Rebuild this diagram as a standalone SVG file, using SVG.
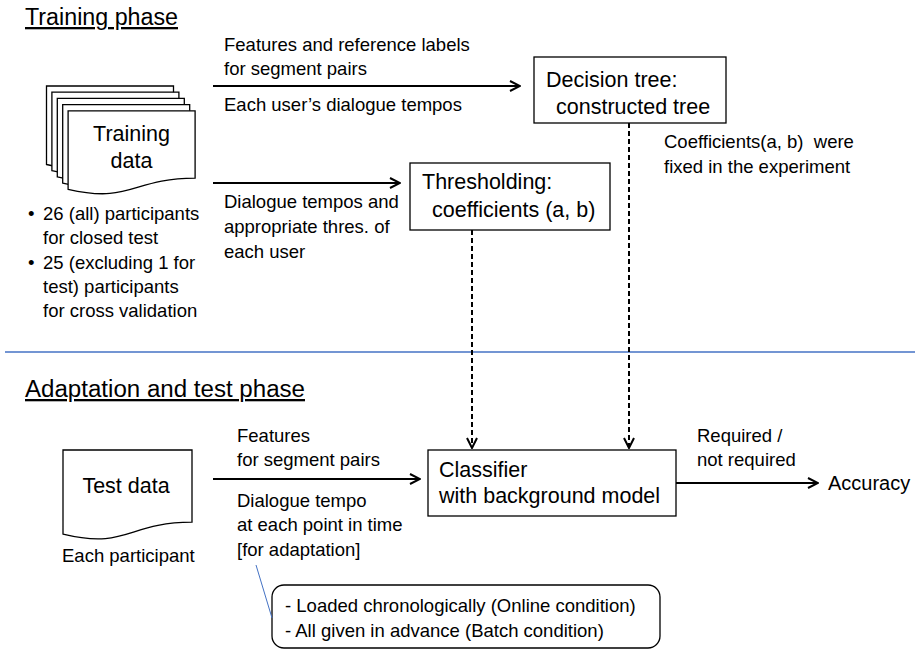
<svg xmlns="http://www.w3.org/2000/svg" width="915" height="652" viewBox="0 0 915 652">
<defs>
<style>
text{font-family:"Liberation Sans",Arial,sans-serif;fill:#000;white-space:pre}
.t{font-size:18.5px}
.b{font-size:21.5px}
.h{font-size:23px;text-decoration:underline}
.box{fill:#fff;stroke:#000;stroke-width:1.3}
.doc{fill:#fff;stroke:#000;stroke-width:1.3}
.ar{fill:none;stroke:#000;stroke-width:2}
.da{fill:none;stroke:#000;stroke-width:2;stroke-dasharray:5 3}
</style>
<marker id="ah" viewBox="0 0 12 12" refX="11" refY="6" markerWidth="12" markerHeight="12" markerUnits="userSpaceOnUse" orient="auto">
<path d="M1,1 L11,6 L1,11" fill="none" stroke="#000" stroke-width="2"/>
</marker>
<path id="page" d="M0,0 H127 V67.4 C63.5,67.4 63.5,93 0,78.5 Z"/>
</defs>

<g id="titles">
<text class="h" x="25" y="25" textLength="153" lengthAdjust="spacingAndGlyphs">Training phase</text>
<text class="h" x="25" y="397" textLength="280" lengthAdjust="spacingAndGlyphs">Adaptation and test phase</text>
</g>

<g id="divider">
<line x1="5" y1="352" x2="915" y2="352" stroke="#4472C4" stroke-width="1.3"/>
</g>

<g id="training-data">
<use href="#page" class="doc" x="46.5" y="86"/>
<use href="#page" class="doc" x="51.9" y="92.2"/>
<use href="#page" class="doc" x="57.3" y="98.4"/>
<use href="#page" class="doc" x="62.7" y="104.6"/>
<use href="#page" class="doc" x="68.1" y="110.8"/>
<text class="b" x="131.5" y="141" text-anchor="middle">Training</text>
<text class="b" x="131.5" y="168" text-anchor="middle">data</text>
</g>

<g id="training-notes">
<text class="t" x="28" y="220">•</text>
<text class="t" x="43" y="220">26 (all) participants</text>
<text class="t" x="43" y="244">for closed test</text>
<text class="t" x="28" y="269">•</text>
<text class="t" x="43" y="269">25 (excluding 1 for</text>
<text class="t" x="43" y="293">test) participants</text>
<text class="t" x="43" y="317">for cross validation</text>
</g>

<g id="decision-tree">
<rect class="box" x="534" y="57" width="192" height="66"/>
<text class="b" x="546" y="87">Decision tree:</text>
<text class="b" x="556" y="114">constructed tree</text>
</g>

<g id="thresholding">
<rect class="box" x="410" y="163" width="200" height="67"/>
<text class="b" x="422" y="189">Thresholding:</text>
<text class="b" x="432" y="217">coefficients (a, b)</text>
</g>

<g id="coef-note">
<text class="t" x="664" y="148">Coefficients(a, b)  were</text>
<text class="t" x="664" y="173">fixed in the experiment</text>
</g>

<g id="test-data">
<path class="doc" transform="translate(63,450)" d="M0,0 H129 V72.2 C64.5,72.2 64.5,99.6 0,84.1 Z"/>
<text class="b" x="126" y="493" text-anchor="middle">Test data</text>
<text class="t" x="62" y="562">Each participant</text>
</g>

<g id="classifier">
<rect class="box" x="428" y="450" width="248" height="66"/>
<text class="b" x="439" y="477">Classifier</text>
<text class="b" x="439" y="503">with background model</text>
</g>

<g id="accuracy">
<text x="828" y="490" style="font-size:20px">Accuracy</text>
</g>

<g id="callout">
<rect class="box" x="272" y="585" width="388" height="63" rx="12"/>
<text class="t" x="285" y="612">- Loaded chronologically (Online condition)</text>
<text class="t" x="285" y="637">- All given in advance (Batch condition)</text>
</g>

<g id="connectors">
<line class="ar" x1="213" y1="86" x2="520" y2="86" marker-end="url(#ah)"/>
<line class="ar" x1="213" y1="183" x2="400" y2="183" marker-end="url(#ah)"/>
<line class="ar" x1="213" y1="479" x2="420" y2="479" marker-end="url(#ah)"/>
<line class="ar" x1="676" y1="483" x2="818" y2="483" marker-end="url(#ah)"/>
<line class="da" x1="629" y1="123" x2="629" y2="448" marker-end="url(#ah)"/>
<line class="da" x1="472" y1="230" x2="472" y2="448" marker-end="url(#ah)"/>
<line x1="256" y1="565" x2="272" y2="618" stroke="#4472C4" stroke-width="1"/>
</g>

<g id="connector-labels">
<text class="t" x="224" y="51">Features and reference labels</text>
<text class="t" x="224" y="75">for segment pairs</text>
<text class="t" x="224" y="111">Each user’s dialogue tempos</text>
<text class="t" x="224" y="208">Dialogue tempos and</text>
<text class="t" x="224" y="233">appropriate thres. of</text>
<text class="t" x="224" y="258">each user</text>
<text class="t" x="237" y="442">Features</text>
<text class="t" x="237" y="466">for segment pairs</text>
<text class="t" x="237" y="507">Dialogue tempo</text>
<text class="t" x="237" y="531">at each point in time</text>
<text class="t" x="237" y="556">[for adaptation]</text>
<text class="t" x="697" y="442">Required /</text>
<text class="t" x="697" y="466">not required</text>
</g>
</svg>
